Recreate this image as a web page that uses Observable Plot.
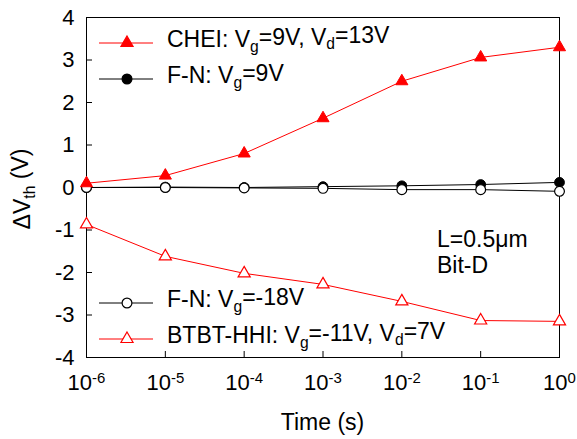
<!DOCTYPE html>
<html><head><meta charset="utf-8">
<script src="https://cdn.jsdelivr.net/npm/d3@7"></script>
<script src="https://cdn.jsdelivr.net/npm/@observablehq/plot@0.6"></script>
<style>
body{margin:0;background:#fff}
#chart{position:relative;width:577px;height:439px}
svg text{font-family:"Liberation Sans",Arial,Helvetica,sans-serif}
</style>
</head><body><div id="chart"></div>
<script>
// ---- data ----
const times = [1e-6, 1e-5, 1e-4, 1e-3, 1e-2, 1e-1, 1];
const cheiValues = [0.10, 0.28, 0.80, 1.63, 2.50, 3.06, 3.30];
const fnPosValues = [0.00, 0.01, 0.00, 0.02, 0.04, 0.07, 0.12];
const fnNegValues = [0.00, 0.00, -0.01, -0.02, -0.05, -0.05, -0.09];
const btbtValues = [-0.87, -1.62, -2.02, -2.28, -2.68, -3.13, -3.15];
const xTickExponents = [-6, -5, -4, -3, -2, -1, 0];
const yTicks = [-4, -3, -2, -1, 0, 1, 2, 3, 4];
const annotationLines = ["L=0.5\u03bcm", "Bit-D"];

const W = 577, H = 439;
const mL = 86, mR = 18, mT = 17, mB = 82;
const font = '"Liberation Sans",Arial,Helvetica,sans-serif';
const fs = 23, tfs = 22;

const mk = (vals) => times.map((t, i) => ({t, v: vals[i]}));
const chei = mk(cheiValues), fnPos = mk(fnPosValues), fnNeg = mk(fnNegValues), btbt = mk(btbtValues);
const xTicks = xTickExponents.map(e => Math.pow(10, e));
const triR = 4.5, cirR = 4.9;

const plotW = W - mL - mR, plotH = H - mT - mB;

const chart = Plot.plot({
  width: W, height: H,
  marginLeft: mL, marginRight: mR, marginTop: mT, marginBottom: mB,
  style: {fontFamily: font, fontSize: tfs + "px", background: "#fff"},
  x: {type: "log", domain: [1e-6, 1]},
  y: {domain: [-4, 4]},
  marks: [
    Plot.axisY(yTicks, {tickSize: 0, tickPadding: 12, fontSize: tfs, label: null, tickFormat: d => String(d)}),
    Plot.axisX(xTicks, {tickSize: 0, tickPadding: 17, fontSize: tfs, label: null,
      tickFormat: d => "10|" + Math.round(Math.log10(d))}),
    Plot.tickY(yTicks, {y: d => d, insetRight: plotW - 6, stroke: "black"}),
    Plot.tickX(xTicks, {x: d => d, insetTop: plotH - 6, stroke: "black"}),
    Plot.frame({stroke: "black", strokeWidth: 1}),
    Plot.line(fnNeg, {x: "t", y: "v", stroke: "black", strokeWidth: 1}),
    Plot.line(fnPos, {x: "t", y: "v", stroke: "black", strokeWidth: 1}),
    Plot.line(chei, {x: "t", y: "v", stroke: "red", strokeWidth: 1}),
    Plot.line(btbt, {x: "t", y: "v", stroke: "red", strokeWidth: 1}),
    Plot.dot(fnPos, {x: "t", y: "v", r: cirR, fill: "black", stroke: "black", strokeWidth: 1}),
    Plot.dot(fnNeg, {x: "t", y: "v", r: cirR, fill: "white", stroke: "black", strokeWidth: 1.2}),
    Plot.dot(chei, {x: "t", y: "v", r: triR, symbol: "triangle", fill: "red", stroke: "red", strokeWidth: 1}),
    Plot.dot(btbt, {x: "t", y: "v", r: triR, symbol: "triangle", fill: "white", stroke: "red", strokeWidth: 1.2})
  ]
});

document.getElementById("chart").appendChild(chart);
const svg = d3.select(chart);

// superscript x tick labels
svg.selectAll('g[aria-label="x-axis tick label"] text').each(function() {
  const s = this.textContent.split("|");
  const t = d3.select(this);
  t.text(null);
  t.append("tspan").text(s[0]);
  t.append("tspan").attr("dy", "-0.45em").attr("font-size", "0.68em").text(s[1]);
});

// y-axis label: ΔV_th (V)
const yl = svg.append("text")
  .attr("transform", `translate(30,189) rotate(-90)`)
  .attr("text-anchor", "middle").attr("font-size", fs).attr("fill", "black");
yl.append("tspan").text("\u0394V");
yl.append("tspan").attr("dy", "0.3em").attr("font-size", "0.68em").text("th");
yl.append("tspan").attr("dy", "-0.3em").text(" (V)");

// x-axis label
svg.append("text").attr("x", mL + plotW / 2).attr("y", 430)
  .attr("text-anchor", "middle").attr("font-size", fs).attr("fill", "black").text("Time (s)");

// legend
const legend = [
  {y: 43, color: "red", sym: "tri", fill: "red", parts: [["CHEI: V"], ["g", "sub"], ["=9V, V"], ["d", "sub"], ["=13V"]]},
  {y: 79, color: "black", sym: "circ", fill: "black", parts: [["F-N: V"], ["g", "sub"], ["=9V"]]},
  {y: 303, color: "black", sym: "circ", fill: "white", parts: [["F-N: V"], ["g", "sub"], ["=-18V"]]},
  {y: 339, color: "red", sym: "tri", fill: "white", parts: [["BTBT-HHI: V"], ["g", "sub"], ["=-11V, V"], ["d", "sub"], ["=7V"]]}
];
const lg = svg.append("g").attr("aria-label", "legend");
legend.forEach(e => {
  lg.append("line").attr("x1", 99).attr("x2", 153).attr("y1", e.y).attr("y2", e.y)
    .attr("stroke", e.color).attr("stroke-width", 1);
  if (e.sym === "tri") {
    lg.append("path").attr("d", d3.symbol(d3.symbolTriangle, triR * triR * Math.PI)())
      .attr("transform", `translate(127,${e.y})`).attr("fill", e.fill).attr("stroke", e.color).attr("stroke-width", 1.2);
  } else {
    lg.append("circle").attr("cx", 127).attr("cy", e.y).attr("r", cirR)
      .attr("fill", e.fill).attr("stroke", e.color).attr("stroke-width", 1.2);
  }
  const t = lg.append("text").attr("x", 167).attr("y", e.y + 4).attr("text-anchor", "start")
    .attr("font-size", fs).attr("fill", "black");
  let shifted = false;
  e.parts.forEach(([s, kind]) => {
    const sp = t.append("tspan").text(s);
    if (kind === "sub") { sp.attr("dy", "0.3em").attr("font-size", "0.68em"); shifted = true; }
    else if (shifted) { sp.attr("dy", "-0.3em"); shifted = false; }
  });
});

// annotation
annotationLines.forEach((s, i) => {
  svg.append("text").attr("x", 437).attr("y", 247 + i * 26).attr("text-anchor", "start")
    .attr("font-size", fs).attr("fill", "black").text(s);
});
</script>
</body></html>
